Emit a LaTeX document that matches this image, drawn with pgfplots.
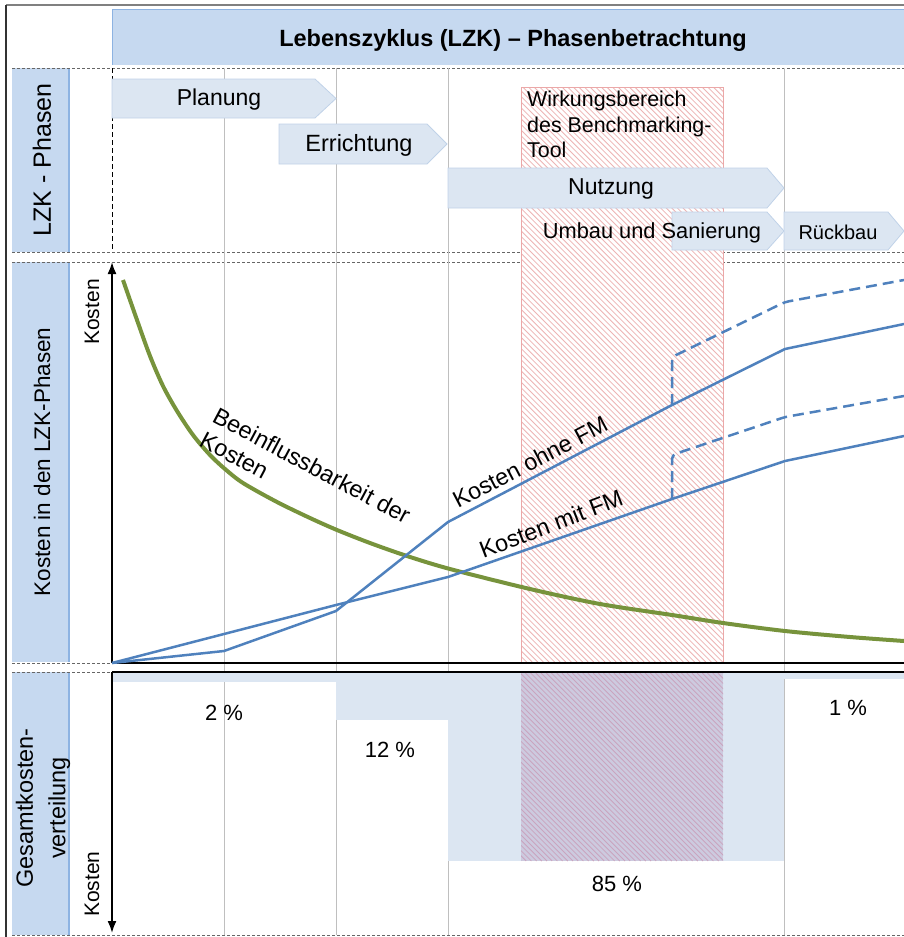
\documentclass[border=0pt]{standalone}
\usepackage{pgfplots}
\pgfplotsset{compat=1.18}
\usepackage{fontspec}
\setmainfont{Liberation Sans}
\usetikzlibrary{arrows.meta}
\definecolor{banner}{HTML}{C6D9F0}
\definecolor{bannerline}{HTML}{8DB3E2}
\definecolor{arrowfill}{HTML}{DCE6F2}
\definecolor{arrowline}{HTML}{C0D2E8}
\definecolor{barfill}{HTML}{DCE6F2}
\definecolor{gridgray}{HTML}{BFBFBF}
\definecolor{fmblue}{HTML}{4F81BD}
\definecolor{olive}{HTML}{77933C}
\definecolor{hatchred}{HTML}{EDB4B4}
\definecolor{hatchborder}{HTML}{EBA8A8}
\definecolor{hatchpurple}{HTML}{C9A4BE}
\definecolor{purplefill}{HTML}{CDCADF}
\newcommand{\fs}[1]{\fontsize{#1}{#1}\selectfont}
\begin{document}
\begin{tikzpicture}
\begin{axis}[width=904pt,height=937pt,scale only axis,
  xmin=0,xmax=904,ymin=0,ymax=937,y dir=reverse,hide axis,clip=false]
% outer frame
\draw[line width=1.2pt,gray] (6,5) -- (904,5);
\draw[line width=1.4pt,black!80] (6,5) -- (6,937);
% title banner
\fill[banner] (112,9) rectangle (904,65);
\draw[bannerline,line width=0.8pt] (112,65) -- (112,9) -- (904,9);
\node[font=\fs{23.5}\bfseries] at (513,40) {Lebenszyklus (LZK) – Phasenbetrachtung};
% left boxes
\fill[banner] (12,68) rectangle (69,252);
\fill[banner] (12,262) rectangle (69,662);
\fill[banner] (12,672) rectangle (69,935);
\draw[bannerline,line width=1.5pt] (69,68) -- (69,252);
\draw[bannerline,line width=1.5pt] (69,262) -- (69,662);
\draw[bannerline,line width=1.5pt] (69,672) -- (69,935);
\node[rotate=90,font=\fs{25}] at (42,160) {LZK - Phasen};
\node[rotate=90,font=\fs{22.5}] at (42,462) {Kosten in den LZK-Phasen};
\node[rotate=90,font=\fs{23.5},align=center] at (43,808) {Gesamtkosten-\\[9pt]verteilung};
% dashed separators
\draw[black!60,line width=0.8pt,dash pattern=on 3pt off 2pt] (12,68) -- (904,68);
\draw[black!60,line width=0.8pt,dash pattern=on 3pt off 2pt] (12,252) -- (904,252);
\draw[black!60,line width=0.8pt,dash pattern=on 3pt off 2pt] (12,262) -- (904,262);
\draw[black!60,line width=0.8pt,dash pattern=on 3pt off 2pt] (12,663) -- (112,663);
\draw[black!60,line width=0.8pt,dash pattern=on 3pt off 2pt] (12,672) -- (112,672);
\draw[black!60,line width=0.8pt,dash pattern=on 3pt off 2pt] (12,935) -- (904,935);
\draw[black,line width=0.9pt,dash pattern=on 5pt off 3pt] (112,68) -- (112,252);
% grid verticals
\draw[gridgray,line width=0.8pt] (224,68) -- (224,935);
\draw[gridgray,line width=0.8pt] (336,68) -- (336,935);
\draw[gridgray,line width=0.8pt] (448,68) -- (448,935);
\draw[gridgray,line width=0.8pt] (784,68) -- (784,935);
% hatched region (top)
\fill[white] (521,87) rectangle (723,662);
\begin{scope}
\clip (521,87) rectangle (723,662);
\pgfplotsinvokeforeach{0,...,139}{\draw[hatchred,line width=0.8pt] ({-54+#1*5.6},87) -- ({521+#1*5.6},662);}
\end{scope}
\draw[hatchborder,line width=0.8pt] (521,662) -- (521,87) -- (723,87) -- (723,662);
\node[anchor=north west,align=left,font=\fs{21.4},inner sep=0pt] at (527,91) {Wirkungsbereich\\[4pt]des Benchmarking-\\[4pt]Tool};
% phase arrows
\filldraw[fill=arrowfill,draw=arrowline,line width=0.8pt] (112,79) -- (315,79) -- (336,98.5) -- (315,118) -- (112,118) -- cycle;
\node[font=\fs{23}] at (219,100) {Planung};
\filldraw[fill=arrowfill,draw=arrowline,line width=0.8pt] (279,124) -- (427,124) -- (447,144) -- (427,164) -- (279,164) -- cycle;
\node[font=\fs{23.5}] at (359,145) {Errichtung};
\filldraw[fill=arrowfill,draw=arrowline,line width=0.8pt] (448,168) -- (767,168) -- (784,188) -- (767,208) -- (448,208) -- cycle;
\node[font=\fs{23}] at (611,189) {Nutzung};
\filldraw[fill=arrowfill,draw=arrowline,line width=0.8pt] (672,212) -- (767,212) -- (784,231) -- (767,250) -- (672,250) -- cycle;
\filldraw[fill=arrowfill,draw=arrowline,line width=0.8pt] (784,212) -- (888,212) -- (904,231) -- (888,250) -- (784,250) -- cycle;
\node[font=\fs{21.8}] at (652,233) {Umbau und Sanierung};
\node[font=\fs{20}] at (838,232) {Rückbau};
% cost distribution bars
\addplot[fill=barfill,draw=none] coordinates {(112,673) (336,673) (336,682) (112,682)} -- cycle;
\addplot[fill=barfill,draw=none] coordinates {(336,673) (448,673) (448,720) (336,720)} -- cycle;
\addplot[fill=barfill,draw=none] coordinates {(448,673) (784,673) (784,861) (448,861)} -- cycle;
\addplot[fill=barfill,draw=none] coordinates {(784,673) (904,673) (904,679) (784,679)} -- cycle;
\fill[purplefill] (521,673) rectangle (723,861);
\begin{scope}
\clip (521,673) rectangle (723,861);
\pgfplotsinvokeforeach{0,...,75}{\draw[hatchpurple,line width=0.8pt] ({333+#1*5.2},673) -- ({521+#1*5.2},861);}
\end{scope}
% percent labels
\node[font=\fs{22}] at (224,713) {2 \%};
\node[font=\fs{22}] at (390,750) {12 \%};
\node[font=\fs{22}] at (617,884) {85 \%};
\node[font=\fs{22}] at (848,708) {1 \%};
% axes
\draw[black,line width=2pt] (112,663) -- (904,663);
\draw[black,line width=2pt] (112,672) -- (904,672);
\draw[black,line width=1.8pt,-{Latex[length=12pt,width=9pt]}] (112,663) -- (112,262);
\draw[black,line width=1.8pt,-{Latex[length=12pt,width=9pt]}] (112,672) -- (112,933);
\node[rotate=90,font=\fs{21}] at (92,312) {Kosten};
\node[rotate=90,font=\fs{21}] at (92,884) {Kosten};
% curves
\addplot[olive,line width=4pt,smooth] coordinates {
 (123,280) (137,320) (150,356) (163,386) (177,411) (193,435) (210,455) (225,469) (243,483)
 (277,502) (310,518) (337,530) (370,543) (407,556) (450,569) (530,589) (600,604) (672,615)
 (723,623) (785,631) (850,637) (904,641)};
\addplot[fmblue,line width=2.5pt] coordinates {(112,663) (224,651) (336,611) (448,522) (672,405) (785,349) (904,324)};
\addplot[fmblue,line width=2.5pt] coordinates {(112,663) (224,634) (336,605) (448,577) (672,499) (785,461) (904,436)};
\addplot[fmblue,line width=2.5pt,dash pattern=on 11pt off 6pt,rounded corners=4pt] coordinates {(672,405) (672,357) (785,302) (904,280)};
\addplot[fmblue,line width=2.5pt,dash pattern=on 11pt off 6pt,rounded corners=4pt] coordinates {(672,499) (672,455) (785,417) (904,396)};
% curve labels
\node[rotate=27.6,font=\fs{23.3}] at (530,462) {Kosten ohne FM};
\node[rotate=21,font=\fs{23.5}] at (551,524) {Kosten mit FM};
\node[rotate=-28,font=\fs{23.5},align=left,anchor=north west,inner sep=0pt] at (219,406) {Beeinflussbarkeit der\\[4pt]Kosten};
\end{axis}
\pgfresetboundingbox
\path[use as bounding box] (current axis.south west) rectangle (current axis.north east);
\end{tikzpicture}
\end{document}
